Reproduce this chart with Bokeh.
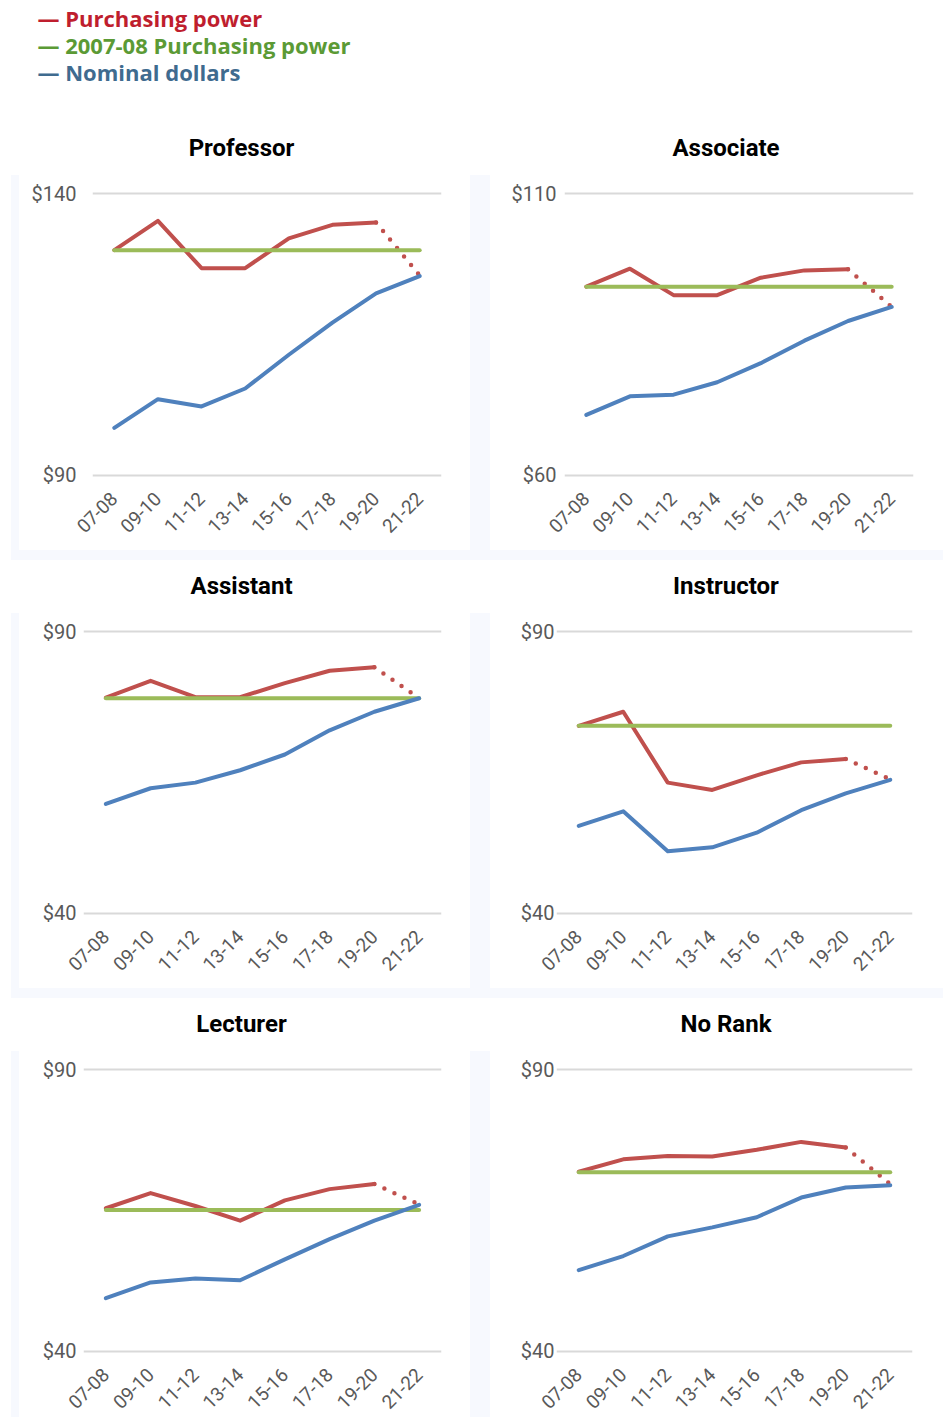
import math
from bokeh.plotting import figure
from bokeh.models import (FactorRange, Range1d, FixedTicker, Spacer, ColumnDataSource,
                          PrintfTickFormatter)
from bokeh.layouts import row, column
from bokeh.embed import file_html
from bokeh.resources import INLINE
from bokeh.core.properties import value

# ---------------- data ----------------
years = ["07-08", "09-10", "11-12", "13-14", "15-16", "17-18", "19-20", "21-22"]

legend_labels = ["Purchasing power", "2007-08 Purchasing power", "Nominal dollars"]

titles = ["Professor", "Associate", "Assistant", "Instructor", "Lecturer", "No Rank"]
y_low = [90, 60, 40, 40, 40, 40]
y_high = [140, 110, 90, 90, 90, 90]

professor_pp = [130.0, 135.2, 126.8, 126.8, 132.1, 134.5, 134.9, 125.5]
professor_base = 130.0
professor_nominal = [98.4, 103.5, 102.2, 105.4, 111.4, 117.1, 122.3, 125.4]

associate_pp = [93.5, 96.7, 92.0, 92.0, 95.1, 96.4, 96.6, 89.9]
associate_base = 93.5
associate_nominal = [70.7, 74.0, 74.3, 76.5, 79.9, 83.9, 87.4, 89.9]

assistant_pp = [78.3, 81.3, 78.4, 78.4, 80.9, 83.1, 83.7, 78.2]
assistant_base = 78.2
assistant_nominal = [59.4, 62.2, 63.2, 65.4, 68.2, 72.5, 75.8, 78.2]

instructor_pp = [73.3, 75.8, 63.2, 61.9, 64.5, 66.8, 67.4, 63.8]
instructor_base = 73.3
instructor_nominal = [55.5, 58.1, 51.0, 51.7, 54.3, 58.3, 61.3, 63.7]

lecturer_pp = [65.4, 68.1, 65.8, 63.2, 66.8, 68.8, 69.7, 66.1]
lecturer_base = 65.1
lecturer_nominal = [49.4, 52.2, 52.9, 52.6, 56.3, 59.9, 63.2, 66.0]

norank_pp = [71.9, 74.1, 74.7, 74.6, 75.8, 77.2, 76.2, 69.7]
norank_base = 71.8
norank_nominal = [54.4, 56.9, 60.4, 62.0, 63.8, 67.3, 69.1, 69.5]

pp_all = [professor_pp, associate_pp, assistant_pp, instructor_pp, lecturer_pp, norank_pp]
base_all = [professor_base, associate_base, assistant_base, instructor_base, lecturer_base, norank_base]
nom_all = [professor_nominal, associate_nominal, assistant_nominal, instructor_nominal,
           lecturer_nominal, norank_nominal]

# ---------------- style ----------------
RED = "#c0504d"
GREEN = "#9bbb59"
BLUE = "#4f81bd"
LEG_COLORS = ["#bf1e2e", "#5b9a35", "#3f6b8f"]
BAND = "#f7f9fe"
AXFONT = "Roboto"
LEGFONT = "Open Sans"

# per panel layout: (fig width, min_border_left, min_border_right, y label standoff)
geom = [
    (451, 73, 29, 16),
    (453, 74, 30, 8),
    (451, 64, 29, 7),
    (453, 66, 31, 2),
    (451, 64, 29, 7),
    (453, 66, 31, 2),
]
panel_heights = [375, 375, 366]
TITLE_H = 53
FRAME_TOP = 10
FRAME_H = 298
LEFT_W = 469    # title strip width, left column
RIGHT_W = 463   # title strip width, right column


def make_panel(i):
    w, bl, br, ystand = geom[i]
    h = panel_heights[i // 2]
    lo, hi = y_low[i], y_high[i]
    p = figure(x_range=FactorRange(factors=years), y_range=Range1d(lo - 1.5, hi + 1.5),
               width=w, height=h,
               min_border_left=bl, min_border_right=br, min_border_top=FRAME_TOP,
               min_border_bottom=h - FRAME_TOP - FRAME_H,
               output_backend="svg", toolbar_location=None,
               background_fill_color="white", border_fill_color="white",
               outline_line_color=None)
    pp = pp_all[i]
    p.line(years[:7], pp[:7], line_color=RED, line_width=4, line_join="round", line_cap="round")
    p.line(years[6:], pp[6:], line_color=RED, line_width=4.5, line_dash="0 11", line_cap="round")
    p.line([years[0], years[-1]], [base_all[i], base_all[i]], line_color=GREEN, line_width=4,
           line_cap="round")
    p.line(years, nom_all[i], line_color=BLUE, line_width=4, line_join="round", line_cap="round")

    t = FixedTicker(ticks=[lo, hi])
    p.yaxis.ticker = t
    p.ygrid.ticker = t
    p.yaxis.formatter = PrintfTickFormatter(format="$%d")
    p.ygrid.grid_line_color = "#d9d9d9"
    p.ygrid.grid_line_width = 2
    p.xgrid.grid_line_color = None
    for ax in (p.xaxis, p.yaxis):
        ax.axis_line_color = None
        ax.major_tick_line_color = None
        ax.minor_tick_line_color = None
        ax.major_tick_out = 0
        ax.major_tick_in = 0
        ax.major_label_text_font = AXFONT
        ax.major_label_text_color = "#595959"
    p.yaxis.major_label_text_font_size = "20px"
    p.yaxis.major_label_standoff = ystand
    p.xaxis.major_label_text_font_size = "19px"
    p.xaxis.major_label_orientation = math.pi / 4
    p.xaxis.major_label_standoff = 12
    return p


def make_title(i):
    w = LEFT_W if i % 2 == 0 else RIGHT_W
    cx = 230 if i % 2 == 0 else 245.5
    t = figure(width=w, height=TITLE_H, x_range=Range1d(0, w), y_range=Range1d(0, TITLE_H),
               min_border=0, toolbar_location=None, output_backend="svg",
               x_axis_type=None, y_axis_type=None, outline_line_color=None,
               background_fill_color="white", border_fill_color="white")
    t.text(x=[cx], y=[28], text=[titles[i]], text_font=value(AXFONT), text_font_style="bold",
           text_font_size="24px", text_color="#000000", text_align="center",
           text_baseline="alphabetic")
    return t


def blue(w, h):
    return Spacer(width=w, height=h, styles={"background-color": BAND})


# legend area
leg = figure(width=943, height=122, x_range=Range1d(0, 943), y_range=Range1d(0, 122),
             min_border=0, toolbar_location=None, output_backend="svg",
             x_axis_type=None, y_axis_type=None, outline_line_color=None,
             background_fill_color="white", border_fill_color="white")
leg_src = ColumnDataSource(dict(x=[37, 37, 37], y=[105, 78, 51],
                                text=["\u2014 " + s for s in legend_labels],
                                color=LEG_COLORS))
leg.text(x="x", y="y", text="text", text_color="color", source=leg_src,
         text_font=value(LEGFONT), text_font_style="bold", text_font_size="22px",
         text_baseline="alphabetic", text_align="left")

panels = [make_panel(i) for i in range(6)]
title_figs = [make_title(i) for i in range(6)]

items = [leg]
for r in range(3):
    h = panel_heights[r]
    items.append(row(Spacer(width=11, height=TITLE_H), title_figs[2 * r], title_figs[2 * r + 1]))
    items.append(row(Spacer(width=11, height=h), blue(8, h), panels[2 * r],
                     blue(20, h), panels[2 * r + 1]))
    if r < 2:
        items.append(row(Spacer(width=11, height=10), blue(932, 10)))

layout = column(*items)

open("out.html", "w").write(file_html(layout, INLINE))
